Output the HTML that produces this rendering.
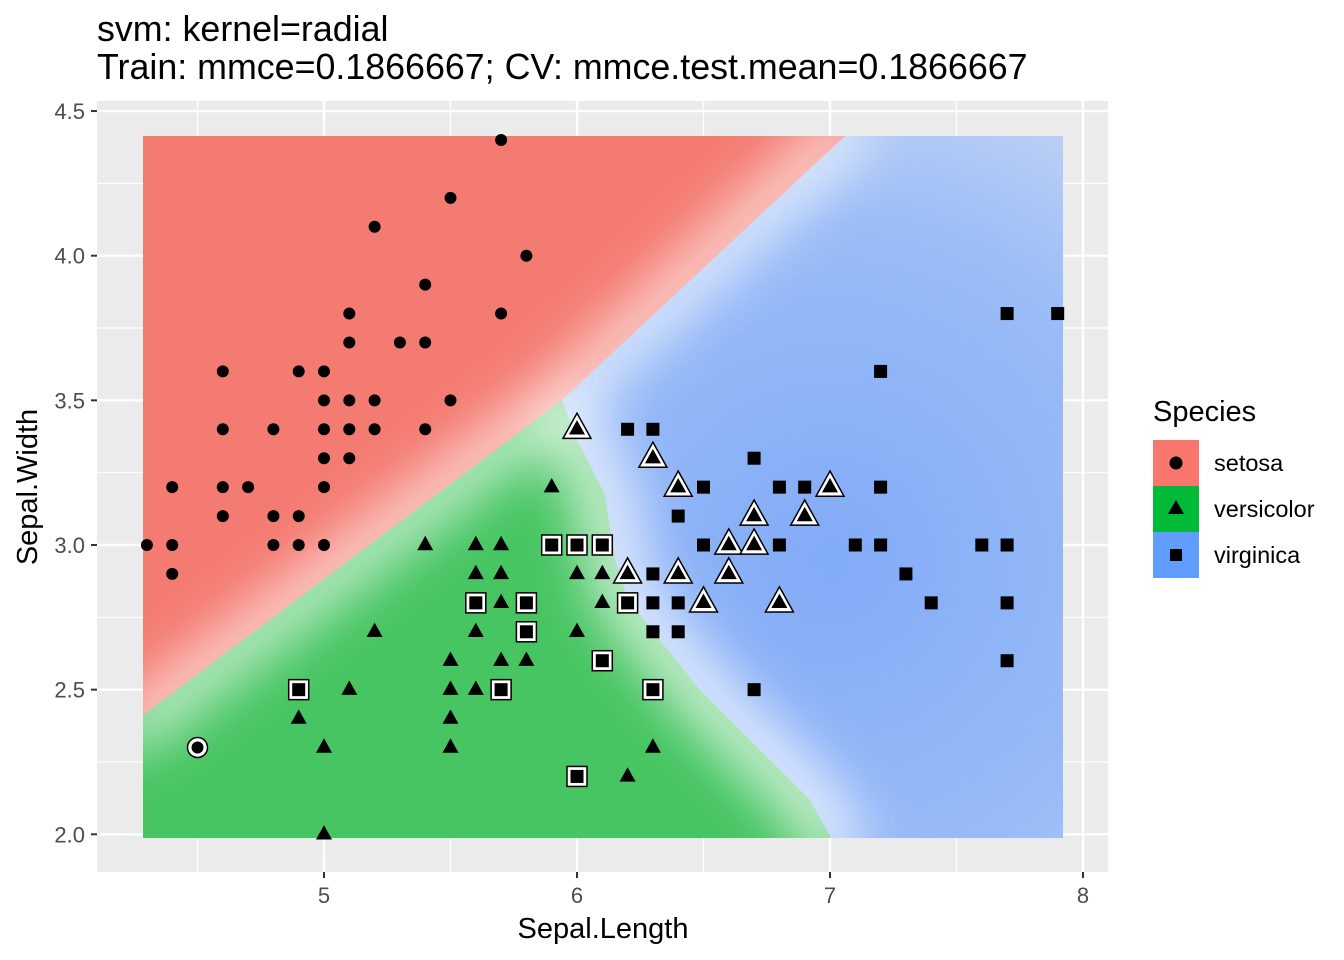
<!DOCTYPE html>
<html><head><meta charset="utf-8">
<style>
body{margin:0;background:#fff;}
svg{display:block;font-family:"Liberation Sans",sans-serif;}
</style></head>
<body>
<svg id="chart" width="1344" height="960">
<defs>
<clipPath id="rc"><rect x="143" y="136" width="920" height="702"/></clipPath>
<filter id="bl" x="-30%" y="-30%" width="160%" height="160%"><feGaussianBlur stdDeviation="28"/></filter>
<radialGradient id="bg" cx="830" cy="560" r="560" gradientUnits="userSpaceOnUse">
<stop offset="0" stop-color="#82abf7"/><stop offset="0.6" stop-color="#9abcf7"/><stop offset="1" stop-color="#cbd9f3"/></radialGradient>
</defs>
<rect x="97" y="101" width="1011" height="771" fill="#EBEBEB"/>
<g id="grid"></g>
<g clip-path="url(#rc)">
<rect x="143" y="136" width="920" height="702" fill="url(#bg)"/>
<polygon points="130,136 845,136 562,400 143,725 130,725" fill="#f47b71"/>
<polygon points="130,725 562,400 577,440 605,495 615,560 628,600 660,640 700,690 750,740 810,800 835,845 130,845" fill="#47c562"/>
<g filter="url(#bl)" opacity="0.85">
<polyline points="120,738 562,400 860,120" fill="none" stroke="#fff" stroke-width="40"/>
<polyline points="562,400 577,440 605,495 615,560 628,600 660,640 700,690 750,740 810,800 845,860" fill="none" stroke="#fff" stroke-width="50"/>
</g>
</g>
<g id="axes"></g>
<g id="pts"></g>
<text x="97" y="41" font-size="35.8" fill="#000">svm: kernel=radial</text>
<text x="97" y="79" font-size="35.8" fill="#000">Train: mmce=0.1866667; CV: mmce.test.mean=0.1866667</text>
<text x="603" y="938" font-size="29" text-anchor="middle">Sepal.Length</text>
<text transform="translate(37,487) rotate(-90)" font-size="29" text-anchor="middle">Sepal.Width</text>
<g>
<text x="1153" y="421" font-size="29">Species</text>
<rect x="1153" y="440" width="46" height="46" fill="#F8766D"/>
<rect x="1153" y="486" width="46" height="46" fill="#00BA38"/>
<rect x="1153" y="532" width="46" height="46" fill="#619CFF"/>
<circle cx="1176" cy="463" r="6.5" fill="#000"/>
<polygon points="1176,500 1184,514 1168,514" fill="#000"/>
<rect x="1170" y="549" width="12" height="12" fill="#000"/>
<text x="1214" y="471" font-size="23.5">setosa</text>
<text x="1214" y="517" font-size="23.5">versicolor</text>
<text x="1214" y="563" font-size="23.5">virginica</text>
</g>
</svg>
<script>
const xTicks=[5,6,7,8];
const yTicks=[2.0,2.5,3.0,3.5,4.0,4.5];
const setosaX=[5.7,5.5,5.2,5.8,5.4,5.1,5.7,5.1,5.3,5.4,4.6,4.9,5.0,5.0,5.1,5.2,5.5,4.6,4.8,5.0,5.1,5.2,5.4,5.0,5.1,4.4,4.6,4.7,5.0,4.6,4.8,4.9,4.3,4.4,4.8,4.9,5.0,4.4,4.5];
const setosaY=[4.4,4.2,4.1,4.0,3.9,3.8,3.8,3.7,3.7,3.7,3.6,3.6,3.6,3.5,3.5,3.5,3.5,3.4,3.4,3.4,3.4,3.4,3.4,3.3,3.3,3.2,3.2,3.2,3.2,3.1,3.1,3.1,3.0,3.0,3.0,3.0,3.0,2.9,2.3];
const setosaWrong=[0,0,0,0,0,0,0,0,0,0,0,0,0,0,0,0,0,0,0,0,0,0,0,0,0,0,0,0,0,0,0,0,0,0,0,0,0,0,1];
const versiX=[5.9,5.4,5.6,5.7,5.6,5.7,6.0,6.1,5.7,6.1,5.2,5.6,6.0,5.5,5.7,5.8,5.1,5.5,5.6,4.9,5.5,5.0,5.5,6.3,6.2,5.0,6.0,6.3,6.4,7.0,6.7,6.9,6.6,6.7,6.2,6.4,6.6,6.5,6.8];
const versiY=[3.2,3.0,3.0,3.0,2.9,2.9,2.9,2.9,2.8,2.8,2.7,2.7,2.7,2.6,2.6,2.6,2.5,2.5,2.5,2.4,2.4,2.3,2.3,2.3,2.2,2.0,3.4,3.3,3.2,3.2,3.1,3.1,3.0,3.0,2.9,2.9,2.9,2.8,2.8];
const versiWrong=[0,0,0,0,0,0,0,0,0,0,0,0,0,0,0,0,0,0,0,0,0,0,0,0,0,0,1,1,1,1,1,1,1,1,1,1,1,1,1];
const virgX=[7.7,7.9,7.2,6.2,6.3,6.7,6.5,6.8,6.9,7.2,6.4,6.5,6.8,7.1,7.2,7.6,7.7,6.3,7.3,6.3,6.4,7.4,7.7,6.3,6.4,7.7,6.7,5.9,6.0,6.1,5.6,5.8,6.2,5.8,6.1,4.9,5.7,6.3,6.0];
const virgY=[3.8,3.8,3.6,3.4,3.4,3.3,3.2,3.2,3.2,3.2,3.1,3.0,3.0,3.0,3.0,3.0,3.0,2.9,2.9,2.8,2.8,2.8,2.8,2.7,2.7,2.6,2.5,3.0,3.0,3.0,2.8,2.8,2.8,2.7,2.6,2.5,2.5,2.5,2.2];
const virgWrong=[0,0,0,0,0,0,0,0,0,0,0,0,0,0,0,0,0,0,0,0,0,0,0,0,0,0,0,1,1,1,1,1,1,1,1,1,1,1,1];
const NS='http://www.w3.org/2000/svg';
const sx=v=>324+(v-5)*253;
const sy=v=>545-(v-3)*289.3;
function mk(tag,attrs,parent){const e=document.createElementNS(NS,tag);for(const k in attrs)e.setAttribute(k,attrs[k]);parent.appendChild(e);return e;}
const grid=document.getElementById('grid'),axes=document.getElementById('axes'),pts=document.getElementById('pts');
for(let i=0;i<xTicks.length;i++){const v=xTicks[i];
 const m=mk('line',{x1:sx(v-0.5),x2:sx(v-0.5),y1:101,y2:872,stroke:'#fff','stroke-width':1.2},grid);
 
 const g=mk('line',{x1:sx(v),x2:sx(v),y1:101,y2:872,stroke:'#fff','stroke-width':2.4},grid);
 
 mk('line',{x1:sx(v),x2:sx(v),y1:872,y2:878,stroke:'#333','stroke-width':2},axes);
 const t=mk('text',{x:sx(v),y:903,'font-size':22,fill:'#4d4d4d','text-anchor':'middle'},axes);t.textContent=v;
 }
{const m=mk('line',{x1:sx(7.5),x2:sx(7.5),y1:101,y2:872,stroke:'#fff','stroke-width':1.2},grid);
 }
for(let i=0;i<yTicks.length;i++){const v=yTicks[i];
 if(i>0){const m=mk('line',{x1:97,x2:1108,y1:sy(v-0.25),y2:sy(v-0.25),stroke:'#fff','stroke-width':1.2},grid);
 }
 const g=mk('line',{x1:97,x2:1108,y1:sy(v),y2:sy(v),stroke:'#fff','stroke-width':2.4},grid);
 
 mk('line',{x1:91,x2:97,y1:sy(v),y2:sy(v),stroke:'#333','stroke-width':2},axes);
 const t=mk('text',{x:85,y:sy(v)+8,'font-size':22,fill:'#4d4d4d','text-anchor':'end'},axes);t.textContent=v.toFixed(1);
 }
function shape(kind,x,y,s,fill,stroke,sw){
 if(kind==='c')return mk('circle',{cx:x,cy:y,r:s,fill:fill,stroke:stroke,'stroke-width':sw},pts);
 if(kind==='t')return mk('polygon',{points:`${x},${y-s*1.15} ${x+s},${y+s*0.65} ${x-s},${y+s*0.65}`,fill:fill,stroke:stroke,'stroke-width':sw},pts);
 return mk('rect',{x:x-s,y:y-s,width:2*s,height:2*s,fill:fill,stroke:stroke,'stroke-width':sw},pts);}
function series(X,Y,W,kind,name,sz,big){
 for(let i=0;i<X.length;i++){const x=sx(X[i]),y=sy(Y[i]);
  if(W[i]){const o=shape(kind,x,y,big,'#fff','#000',1.5);
   }
  const p=shape(kind,x,y,sz,'#000','none',0);
  }}
series(setosaX,setosaY,setosaWrong,'c','setosa',6,10);
series(versiX,versiY,versiWrong,'t','versicolor',8,14);
series(virgX,virgY,virgWrong,'s','virginica',6.5,10);
</script>
</body></html>
